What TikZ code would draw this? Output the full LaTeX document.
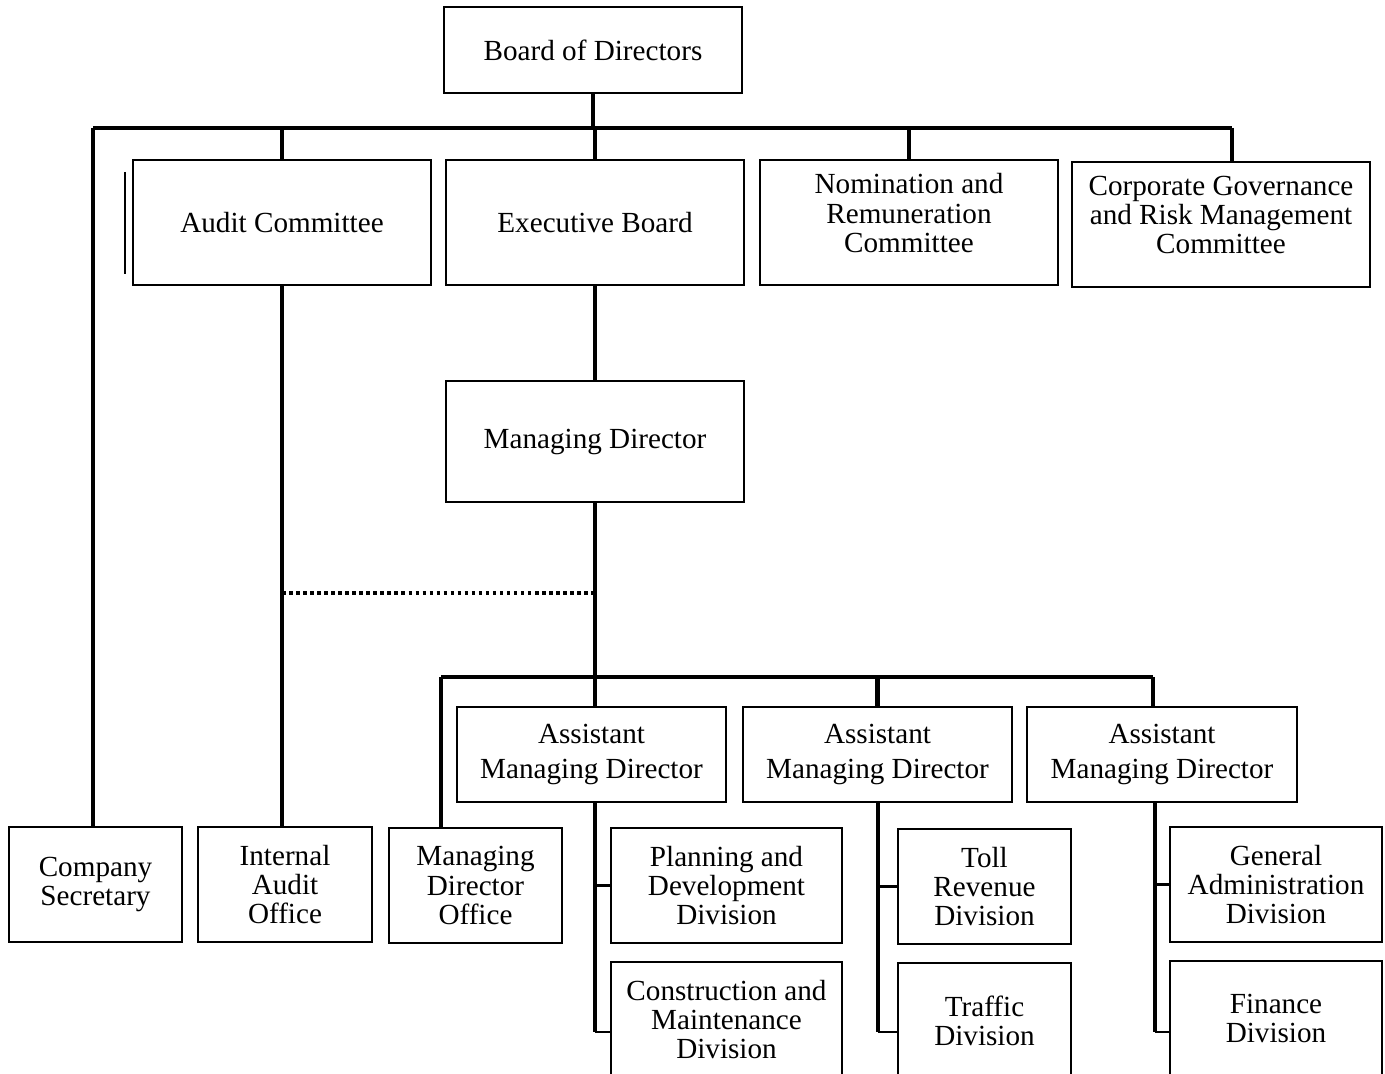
\documentclass[tikz,border=0pt]{standalone}
\usepackage{fontspec}
\setmainfont{Liberation Serif}
\begin{document}
\begin{tikzpicture}[x=0.02cm,y=-0.02cm,
  unit/.style={draw,line width=1.3pt,align=center,inner sep=0pt,
    font=\fontsize{16.6}{16.6}\selectfont},
  size/.style 2 args={minimum width=#1*0.02cm,minimum height=#2*0.02cm},
  lift/.style={text depth=0.38cm},
  link/.style={line width=2.3pt},
  twig/.style={line width=1.3pt}]
\useasboundingbox (0,0) rectangle (1385,1074);
\clip (0,0) rectangle (1385,1074);

% Board and its committees
\node[unit,size={298}{86}] (board) at (593,50) {Board of Directors};
\node[unit,size={298}{125}] (audit) at (282,222.5) {Audit Committee};
\node[unit,size={298}{125}] (exec) at (595,222.5) {Executive Board};
\node[unit,lift,size={298}{125}] (nomin) at (909,222.5) {Nomination and\\Remuneration\\Committee};
\node[unit,lift,size={298}{125}] (corp) at (1221,224.5) {Corporate Governance\\and Risk Management\\Committee};
\node[unit,size={298}{121}] (mdir) at (595,441.5) {Managing Director};

% Offices on the bottom row
\node[unit,size={173}{115}] (sec) at (95.5,884.5) {Company\\Secretary};
\node[unit,size={174}{115}] (iao) at (285,884.5) {Internal\\Audit\\Office};
\node[unit,size={173}{115}] (mdo) at (475.5,885.5) {Managing\\Director\\Office};

% Assistant managing directors
\node[unit,size={269}{95}] (amdA) at (591.5,754.5) {Assistant\\[3pt]Managing Director};
\node[unit,size={269}{95}] (amdB) at (877.5,754.5) {Assistant\\[3pt]Managing Director};
\node[unit,size={270}{95}] (amdC) at (1162,754.5) {Assistant\\[3pt]Managing Director};

% Divisions
\node[unit,size={231}{115}] (plan) at (726.5,885.5) {Planning and\\Development\\Division};
\node[unit,size={231}{115}] (cons) at (726.5,1019.5) {Construction and\\Maintenance\\Division};
\node[unit,size={173}{115}] (toll) at (984.5,886.5) {Toll\\Revenue\\Division};
\node[unit,size={173}{115}] (traf) at (984.5,1020.5) {Traffic\\Division};
\node[unit,size={212}{115}] (gen) at (1276,884.5) {General\\Administration\\Division};
\node[unit,size={212}{115}] (fin) at (1276,1018.5) {Finance\\Division};

% Upper bus
\coordinate (busL) at (93,128);
\coordinate (busR) at (1232,128);
\draw[link] (busL) -- (busR);
\draw[link] (board.south) -- (board.south |- busL);
\draw[link] (busL) -- (busL |- sec.north);
\draw[link] (audit.north |- busL) -- (audit.north);
\draw[link] (exec.north |- busL) -- (exec.north);
\draw[link] (nomin.north |- busL) -- (nomin.north);
\draw[link] (busR) -- (busR |- corp.north);
\draw[twig] (125,172) -- (125,274);

% Audit line and the dotted link
\draw[link] (audit.south) -- (audit.south |- iao.north);
\draw[link] (exec.south) -- (mdir.north);
\coordinate (dot) at (282,593);
\draw[line width=2.2pt,dash pattern=on 2pt off 2pt] (dot) -- (dot -| mdir.south);

% Lower bus
\coordinate (lowL) at (441,677);
\coordinate (lowR) at (1153,677);
\draw[link] (mdir.south) -- (mdir.south |- lowL);
\draw[link] (lowL) -- (lowR);
\draw[link] (lowL) -- (lowL |- mdo.north);
\draw[link] (mdir.south |- lowL) -- (mdir.south |- amdA.north);
\draw[link] (amdB.north |- lowL) -- (amdB.north);
\draw[link] (lowR) -- (lowR |- amdC.north);

% Spines to the divisions
\coordinate (spineA) at (595,1032);
\coordinate (spineB) at (878,1032);
\coordinate (spineC) at (1155,1032);
\draw[link] (amdA.south -| spineA) -- (spineA);
\draw[link] (amdB.south -| spineB) -- (spineB);
\draw[link] (amdC.south -| spineC) -- (spineC);
\draw[twig] (spineA |- plan.west) -- (plan.west);
\draw[twig] (spineA) -- (spineA -| cons.west);
\draw[twig] (spineB |- toll.west) -- (toll.west);
\draw[twig] (spineB) -- (spineB -| traf.west);
\draw[twig] (spineC |- gen.west) -- (gen.west);
\draw[twig] (spineC) -- (spineC -| fin.west);

\end{tikzpicture}
\end{document}
